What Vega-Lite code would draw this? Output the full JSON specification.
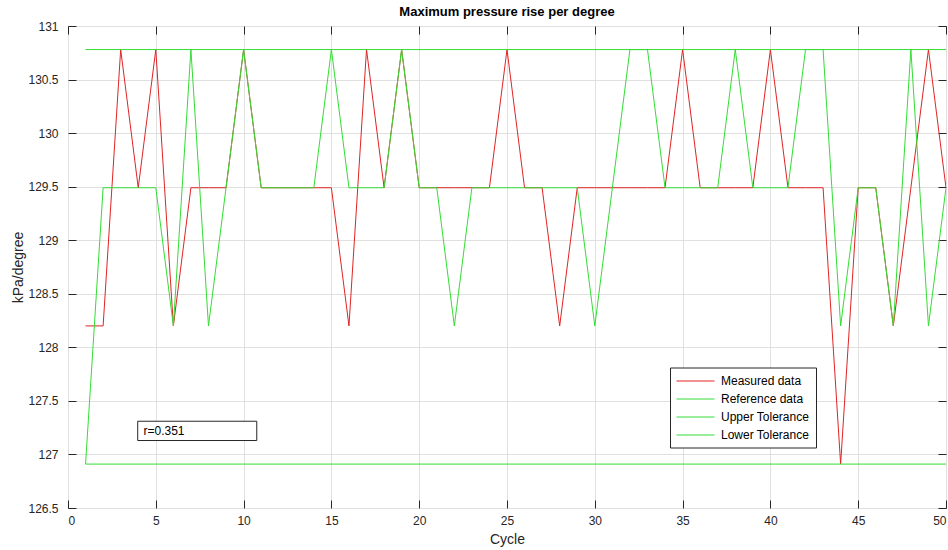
{
  "$schema": "https://vega.github.io/schema/vega-lite/v6.json",
  "width": 878,
  "height": 482,
  "autosize": {"type": "none"},
  "padding": {"left": 68, "top": 26, "right": 2, "bottom": 42},
  "background": "white",
  "title": {"text": "Maximum pressure rise per degree", "fontSize": 13, "fontWeight": "bold", "font": "Liberation Sans", "color": "#000000", "anchor": "middle", "offset": 1},
  "config": {
    "view": {"stroke": "#262626", "strokeWidth": 1},
    "font": "Liberation Sans",
    "axis": {"labelFont": "Liberation Sans", "titleFont": "Liberation Sans", "labelColor": "#262626", "titleColor": "#262626", "tickColor": "#262626", "domain": false, "gridColor": "#e0e0e0", "gridWidth": 1}
  },
  "datasets": {
    "series": [
      {"cycle": 1, "value": 128.2, "series": "Measured data"},
      {"cycle": 2, "value": 128.2, "series": "Measured data"},
      {"cycle": 3, "value": 130.78, "series": "Measured data"},
      {"cycle": 4, "value": 129.49, "series": "Measured data"},
      {"cycle": 5, "value": 130.78, "series": "Measured data"},
      {"cycle": 6, "value": 128.2, "series": "Measured data"},
      {"cycle": 7, "value": 129.49, "series": "Measured data"},
      {"cycle": 8, "value": 129.49, "series": "Measured data"},
      {"cycle": 9, "value": 129.49, "series": "Measured data"},
      {"cycle": 10, "value": 130.78, "series": "Measured data"},
      {"cycle": 11, "value": 129.49, "series": "Measured data"},
      {"cycle": 12, "value": 129.49, "series": "Measured data"},
      {"cycle": 13, "value": 129.49, "series": "Measured data"},
      {"cycle": 14, "value": 129.49, "series": "Measured data"},
      {"cycle": 15, "value": 129.49, "series": "Measured data"},
      {"cycle": 16, "value": 128.2, "series": "Measured data"},
      {"cycle": 17, "value": 130.78, "series": "Measured data"},
      {"cycle": 18, "value": 129.49, "series": "Measured data"},
      {"cycle": 19, "value": 130.78, "series": "Measured data"},
      {"cycle": 20, "value": 129.49, "series": "Measured data"},
      {"cycle": 21, "value": 129.49, "series": "Measured data"},
      {"cycle": 22, "value": 129.49, "series": "Measured data"},
      {"cycle": 23, "value": 129.49, "series": "Measured data"},
      {"cycle": 24, "value": 129.49, "series": "Measured data"},
      {"cycle": 25, "value": 130.78, "series": "Measured data"},
      {"cycle": 26, "value": 129.49, "series": "Measured data"},
      {"cycle": 27, "value": 129.49, "series": "Measured data"},
      {"cycle": 28, "value": 128.2, "series": "Measured data"},
      {"cycle": 29, "value": 129.49, "series": "Measured data"},
      {"cycle": 30, "value": 129.49, "series": "Measured data"},
      {"cycle": 31, "value": 129.49, "series": "Measured data"},
      {"cycle": 32, "value": 129.49, "series": "Measured data"},
      {"cycle": 33, "value": 129.49, "series": "Measured data"},
      {"cycle": 34, "value": 129.49, "series": "Measured data"},
      {"cycle": 35, "value": 130.78, "series": "Measured data"},
      {"cycle": 36, "value": 129.49, "series": "Measured data"},
      {"cycle": 37, "value": 129.49, "series": "Measured data"},
      {"cycle": 38, "value": 129.49, "series": "Measured data"},
      {"cycle": 39, "value": 129.49, "series": "Measured data"},
      {"cycle": 40, "value": 130.78, "series": "Measured data"},
      {"cycle": 41, "value": 129.49, "series": "Measured data"},
      {"cycle": 42, "value": 129.49, "series": "Measured data"},
      {"cycle": 43, "value": 129.49, "series": "Measured data"},
      {"cycle": 44, "value": 126.91, "series": "Measured data"},
      {"cycle": 45, "value": 129.49, "series": "Measured data"},
      {"cycle": 46, "value": 129.49, "series": "Measured data"},
      {"cycle": 47, "value": 128.2, "series": "Measured data"},
      {"cycle": 48, "value": 129.49, "series": "Measured data"},
      {"cycle": 49, "value": 130.78, "series": "Measured data"},
      {"cycle": 50, "value": 129.49, "series": "Measured data"},
      {"cycle": 1, "value": 126.91, "series": "Reference data"},
      {"cycle": 2, "value": 129.49, "series": "Reference data"},
      {"cycle": 3, "value": 129.49, "series": "Reference data"},
      {"cycle": 4, "value": 129.49, "series": "Reference data"},
      {"cycle": 5, "value": 129.49, "series": "Reference data"},
      {"cycle": 6, "value": 128.2, "series": "Reference data"},
      {"cycle": 7, "value": 130.78, "series": "Reference data"},
      {"cycle": 8, "value": 128.2, "series": "Reference data"},
      {"cycle": 9, "value": 129.49, "series": "Reference data"},
      {"cycle": 10, "value": 130.78, "series": "Reference data"},
      {"cycle": 11, "value": 129.49, "series": "Reference data"},
      {"cycle": 12, "value": 129.49, "series": "Reference data"},
      {"cycle": 13, "value": 129.49, "series": "Reference data"},
      {"cycle": 14, "value": 129.49, "series": "Reference data"},
      {"cycle": 15, "value": 130.78, "series": "Reference data"},
      {"cycle": 16, "value": 129.49, "series": "Reference data"},
      {"cycle": 17, "value": 129.49, "series": "Reference data"},
      {"cycle": 18, "value": 129.49, "series": "Reference data"},
      {"cycle": 19, "value": 130.78, "series": "Reference data"},
      {"cycle": 20, "value": 129.49, "series": "Reference data"},
      {"cycle": 21, "value": 129.49, "series": "Reference data"},
      {"cycle": 22, "value": 128.2, "series": "Reference data"},
      {"cycle": 23, "value": 129.49, "series": "Reference data"},
      {"cycle": 24, "value": 129.49, "series": "Reference data"},
      {"cycle": 25, "value": 129.49, "series": "Reference data"},
      {"cycle": 26, "value": 129.49, "series": "Reference data"},
      {"cycle": 27, "value": 129.49, "series": "Reference data"},
      {"cycle": 28, "value": 129.49, "series": "Reference data"},
      {"cycle": 29, "value": 129.49, "series": "Reference data"},
      {"cycle": 30, "value": 128.2, "series": "Reference data"},
      {"cycle": 31, "value": 129.49, "series": "Reference data"},
      {"cycle": 32, "value": 130.78, "series": "Reference data"},
      {"cycle": 33, "value": 130.78, "series": "Reference data"},
      {"cycle": 34, "value": 129.49, "series": "Reference data"},
      {"cycle": 35, "value": 129.49, "series": "Reference data"},
      {"cycle": 36, "value": 129.49, "series": "Reference data"},
      {"cycle": 37, "value": 129.49, "series": "Reference data"},
      {"cycle": 38, "value": 130.78, "series": "Reference data"},
      {"cycle": 39, "value": 129.49, "series": "Reference data"},
      {"cycle": 40, "value": 129.49, "series": "Reference data"},
      {"cycle": 41, "value": 129.49, "series": "Reference data"},
      {"cycle": 42, "value": 130.78, "series": "Reference data"},
      {"cycle": 43, "value": 130.78, "series": "Reference data"},
      {"cycle": 44, "value": 128.2, "series": "Reference data"},
      {"cycle": 45, "value": 129.49, "series": "Reference data"},
      {"cycle": 46, "value": 129.49, "series": "Reference data"},
      {"cycle": 47, "value": 128.2, "series": "Reference data"},
      {"cycle": 48, "value": 130.78, "series": "Reference data"},
      {"cycle": 49, "value": 128.2, "series": "Reference data"},
      {"cycle": 50, "value": 129.49, "series": "Reference data"},
      {"cycle": 1, "value": 130.78, "series": "Upper Tolerance"},
      {"cycle": 50, "value": 130.78, "series": "Upper Tolerance"},
      {"cycle": 1, "value": 126.91, "series": "Lower Tolerance"},
      {"cycle": 50, "value": 126.91, "series": "Lower Tolerance"}
    ],
    "note": [
      {"x": 3.97, "x2": 10.75, "y": 127.31, "y2": 127.13, "tx": 4.3, "ty": 127.22, "label": "r=0.351"}
    ]
  },
  "layer": [
    {
      "data": {"name": "series"},
      "transform": [{"filter": "datum.series === 'Measured data'"}],
      "mark": {"type": "line", "strokeWidth": 1, "clip": true},
      "encoding": {
        "x": {"field": "cycle", "type": "quantitative", "scale": {"domain": [0, 50], "nice": false, "zero": false},
          "axis": {"orient": "bottom", "values": [0, 5, 10, 15, 20, 25, 30, 35, 40, 45, 50], "grid": true, "tickSize": -8, "labelFontSize": 12, "labelPadding": 15, "title": "Cycle", "titleFontSize": 14, "titleFontWeight": "normal", "titlePadding": 6}},
        "y": {"field": "value", "type": "quantitative", "scale": {"domain": [126.5, 131], "nice": false, "zero": false},
          "axis": {"orient": "left", "values": [126.5, 127, 127.5, 128, 128.5, 129, 129.5, 130, 130.5, 131], "format": "~f", "grid": true, "tickSize": -8, "labelFontSize": 12, "labelPadding": 18, "title": "kPa/degree", "titleFontSize": 14, "titleFontWeight": "normal", "titlePadding": 2}},
        "color": {"field": "series", "type": "nominal",
          "scale": {"domain": ["Measured data", "Reference data", "Upper Tolerance", "Lower Tolerance"], "range": ["#e02424", "#33dd33", "#33dd33", "#33dd33"]},
          "legend": {"orient": "none", "legendX": 602, "legendY": 341.5, "title": null, "symbolType": "M-1,0H4.43", "symbolSize": 196, "symbolStrokeWidth": 1, "labelFontSize": 12, "labelFont": "Liberation Sans", "labelColor": "#000000", "labelOffset": 30, "rowPadding": 4, "padding": 6, "strokeColor": "#262626", "fillColor": "white"}}
      }
    },
    {
      "data": {"name": "series"},
      "transform": [{"filter": "datum.series !== 'Measured data'"}],
      "mark": {"type": "line", "strokeWidth": 1, "clip": true},
      "encoding": {
        "x": {"field": "cycle", "type": "quantitative", "axis": null},
        "y": {"field": "value", "type": "quantitative", "axis": null},
        "detail": {"field": "series", "type": "nominal"},
        "color": {"field": "series", "type": "nominal"}
      }
    },
    {
      "data": {"name": "note"},
      "mark": {"type": "rect", "fill": "white", "stroke": "#262626", "strokeWidth": 1},
      "encoding": {
        "x": {"field": "x", "type": "quantitative", "axis": {"orient": "top", "values": [0, 5, 10, 15, 20, 25, 30, 35, 40, 45, 50], "labels": false, "grid": false, "tickSize": -8, "title": null}},
        "x2": {"field": "x2"},
        "y": {"field": "y", "type": "quantitative", "axis": {"orient": "right", "values": [126.5, 127, 127.5, 128, 128.5, 129, 129.5, 130, 130.5, 131], "labels": false, "grid": false, "tickSize": -8, "title": null}},
        "y2": {"field": "y2"}
      }
    },
    {
      "data": {"name": "note"},
      "mark": {"type": "text", "align": "left", "baseline": "middle", "fontSize": 12, "font": "Liberation Sans", "color": "#000000"},
      "encoding": {
        "x": {"field": "tx", "type": "quantitative", "axis": null},
        "y": {"field": "ty", "type": "quantitative", "axis": null},
        "text": {"field": "label"}
      }
    }
  ],
  "resolve": {"axis": {"x": "independent", "y": "independent"}}
}
